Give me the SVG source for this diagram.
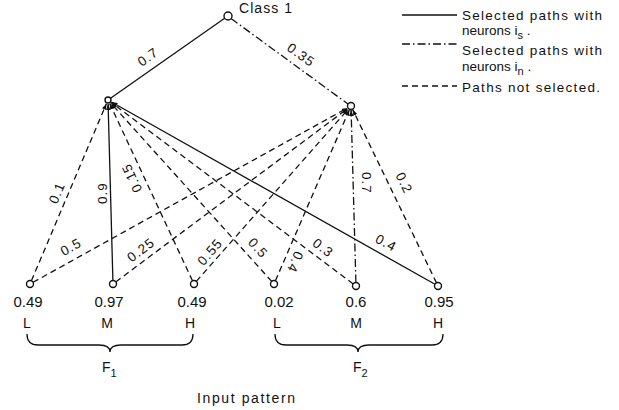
<svg xmlns="http://www.w3.org/2000/svg" width="619" height="410" viewBox="0 0 619 410">
<style>
text{font-family:"Liberation Sans",Arial,sans-serif;fill:#111}
.lbl{font-size:14px}
.el{font-size:13.5px;text-anchor:middle;dominant-baseline:central;letter-spacing:1px}
.val{font-size:15px;text-anchor:middle}
.lmh{font-size:14px;text-anchor:middle}
.leg{font-size:13.5px}
.node{fill:#fff;stroke:#111;stroke-width:1.4}
.e{fill:none;stroke:#111;stroke-width:1.3}
.dash{stroke-dasharray:6 4}
.dd{stroke-dasharray:8 3 1.5 3}
.br{fill:none;stroke:#111;stroke-width:1.3}
</style>
<defs>
<marker id="ah" markerUnits="userSpaceOnUse" markerWidth="6" markerHeight="5" refX="6" refY="2.2" orient="auto">
<path d="M0,0 L6,2.2 L0,4.4 z" fill="#111"/>
</marker>
</defs>

<g id="connectors">
<line class="e" x1="225" y1="18" x2="110.5" y2="98.3"/>
<line class="e dd" x1="231" y1="18.5" x2="348" y2="104"/>
<line class="e dash" x1="31.4" y1="280.8" x2="106.4" y2="103.7" marker-end="url(#ah)"/>
<line class="e" x1="112.9" y1="280.5" x2="108.1" y2="104" marker-end="url(#ah)"/>
<line class="e dash" x1="192.5" y1="280.8" x2="109.7" y2="103.6" marker-end="url(#ah)"/>
<line class="e dash" x1="271.7" y1="281.4" x2="110.7" y2="103" marker-end="url(#ah)"/>
<line class="e dash" x1="353.2" y1="283.9" x2="111.2" y2="102.4" marker-end="url(#ah)"/>
<line class="e" x1="435" y1="284.3" x2="111.5" y2="102" marker-end="url(#ah)"/>
<line class="e dash" x1="33.1" y1="282.3" x2="347.5" y2="107.9" marker-end="url(#ah)"/>
<line class="e dash" x1="115.8" y1="281.9" x2="347.8" y2="108.4" marker-end="url(#ah)"/>
<line class="e dash" x1="196.3" y1="281.4" x2="348.4" y2="109" marker-end="url(#ah)"/>
<line class="e dash" x1="275.4" y1="280.8" x2="349.4" y2="109.7" marker-end="url(#ah)"/>
<line class="e dd" x1="355.9" y1="282.5" x2="351.1" y2="110" marker-end="url(#ah)"/>
<line class="e dash" x1="436.5" y1="282.9" x2="352.7" y2="109.6" marker-end="url(#ah)"/>

<text class="el" transform="translate(148,57) rotate(-35)">0.7</text>
<text class="el" transform="translate(301,55) rotate(36)">0.35</text>
<text class="el" transform="translate(57,193) rotate(-67)">0.1</text>
<text class="el" transform="translate(102,193) rotate(-90)">0.9</text>
<text class="el" transform="translate(132,178) rotate(-115)">0.15</text>
<text class="el" transform="translate(71,247) rotate(-29)">0.5</text>
<text class="el" transform="translate(141,250) rotate(-37)">0.25</text>
<text class="el" transform="translate(210,252) rotate(-49)">0.55</text>
<text class="el" transform="translate(258,248) rotate(48)">0.5</text>
<text class="el" transform="translate(295,262) rotate(113)">0.4</text>
<text class="el" transform="translate(323,248) rotate(37)">0.3</text>
<text class="el" transform="translate(386,243) rotate(29)">0.4</text>
<text class="el" transform="translate(366,183) rotate(90)">0.7</text>
<text class="el" transform="translate(404,183) rotate(64)">0.2</text>
</g>

<g id="class1">
<circle class="node" cx="228" cy="16" r="4"/>
<text class="lbl" x="239" y="13" textLength="53" lengthAdjust="spacing">Class 1</text>
</g>
<g id="hiddenLeft"><circle class="node" cx="108" cy="100" r="3"/></g>
<g id="hiddenRight"><circle class="node" cx="351" cy="106" r="3.5"/></g>

<g id="in1"><circle class="node" cx="30" cy="284" r="3.5"/><text class="val" x="28" y="307">0.49</text><text class="lmh" x="27" y="328">L</text></g>
<g id="in2"><circle class="node" cx="113" cy="284" r="3.5"/><text class="val" x="109" y="307">0.97</text><text class="lmh" x="107" y="328">M</text></g>
<g id="in3"><circle class="node" cx="194" cy="284" r="3.5"/><text class="val" x="192" y="307">0.49</text><text class="lmh" x="190" y="328">H</text></g>
<g id="in4"><circle class="node" cx="274" cy="284" r="3.5"/><text class="val" x="279" y="307">0.02</text><text class="lmh" x="277" y="328">L</text></g>
<g id="in5"><circle class="node" cx="356" cy="286" r="3.5"/><text class="val" x="356" y="307">0.6</text><text class="lmh" x="356" y="328">M</text></g>
<g id="in6"><circle class="node" cx="438" cy="286" r="3.5"/><text class="val" x="439" y="307">0.95</text><text class="lmh" x="438" y="328">H</text></g>

<g id="F1">
<path class="br" d="M27,334 Q27,345 38,345 L99,345 Q110,345 110,352 Q110,345 121,345 L182,345 Q193,345 193,334"/>
<text class="lbl" x="102" y="372">F<tspan font-size="11" dy="5">1</tspan></text>
</g>
<g id="F2">
<path class="br" d="M275,334 Q275,345 286,345 L347,345 Q358,345 358,352 Q358,345 369,345 L432,345 Q443,345 443,334"/>
<text class="lbl" x="353" y="372">F<tspan font-size="11" dy="5">2</tspan></text>
</g>

<g id="inputPattern">
<text class="lbl" x="197" y="403" textLength="98" lengthAdjust="spacing">Input  pattern</text>
</g>

<g id="legend">
<line class="e" x1="402" y1="15" x2="457" y2="15"/>
<text class="leg" x="462" y="20" textLength="140" lengthAdjust="spacing">Selected paths with</text>
<text class="leg" x="462" y="35">neurons i<tspan font-size="11" dy="4">s</tspan><tspan dy="-4"> .</tspan></text>
<line class="e dd" x1="402" y1="44" x2="457" y2="44"/>
<text class="leg" x="462" y="55" textLength="140" lengthAdjust="spacing">Selected  paths with</text>
<text class="leg" x="462" y="71">neurons i<tspan font-size="11" dy="4">n</tspan><tspan dy="-4"> .</tspan></text>
<line class="e dash" x1="402" y1="86" x2="457" y2="86"/>
<text class="leg" x="462" y="92" textLength="138" lengthAdjust="spacing">Paths not selected.</text>
</g>
</svg>
